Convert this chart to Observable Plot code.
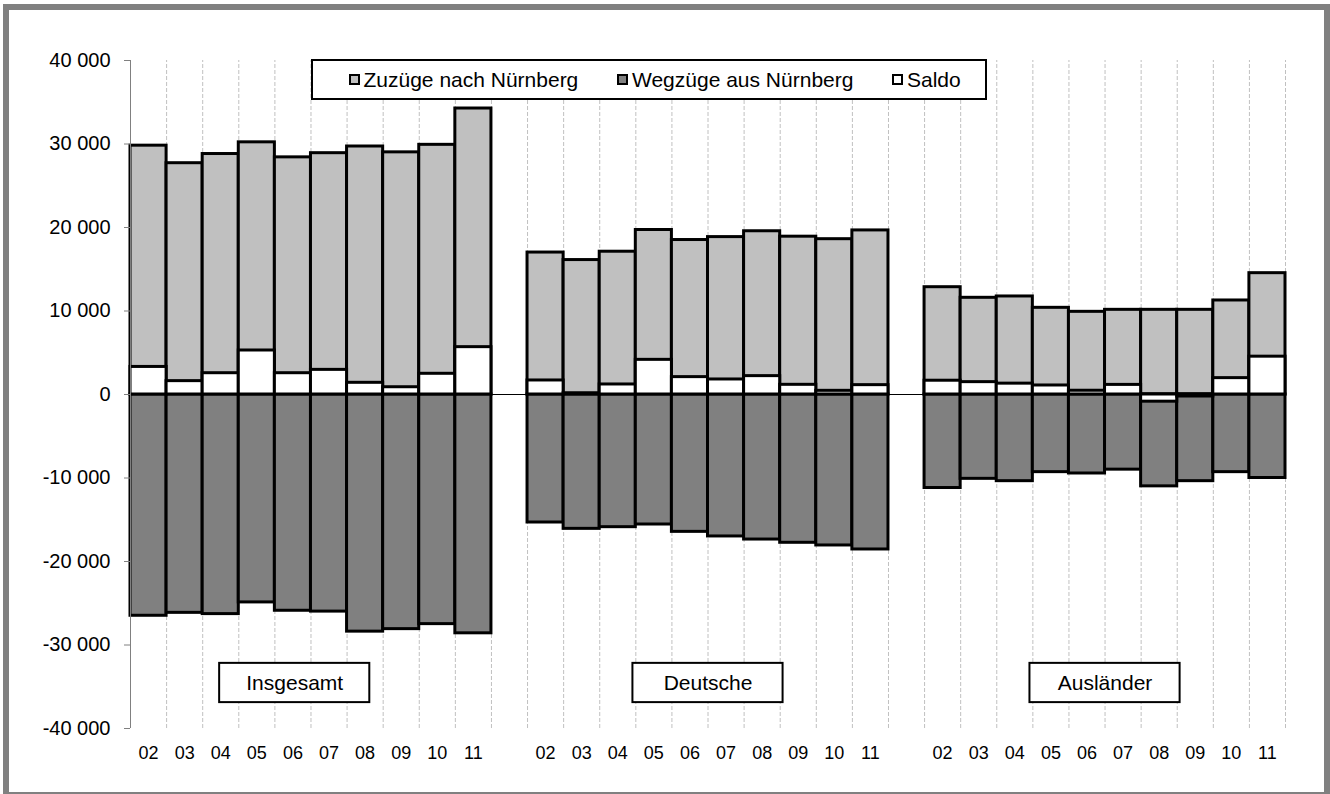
<!DOCTYPE html>
<html><head><meta charset="utf-8">
<script src="https://cdn.jsdelivr.net/npm/d3@7"></script>
<script src="https://cdn.jsdelivr.net/npm/@observablehq/plot@0.6"></script>
<style>
html,body{margin:0;padding:0;width:1330px;height:794px;overflow:hidden;background:#fff;font-family:Arial,"Liberation Sans",sans-serif;}
#chart{position:absolute;left:0;top:0;}
#frame{position:absolute;left:3px;top:4px;width:1327px;height:794px;border:6px solid #808080;box-sizing:border-box;pointer-events:none;}
#legend{position:absolute;left:311px;top:59px;width:676px;height:41px;border:2px solid #000;box-sizing:border-box;background:#fff;}
.item{position:absolute;top:0;height:37px;display:flex;align-items:center;font-size:21px;color:#000;white-space:nowrap;}
.sw{width:7px;height:7px;border:2px solid #000;margin-right:4px;}
</style></head><body>
<div id="chart"></div>
<div id="frame"></div>
<div id="legend"></div>
<script>
const years = ["02","03","04","05","06","07","08","09","10","11"];
const groups = ["Insgesamt","Deutsche","Ausländer"];

const zuzuegeInsgesamt = [29800, 27700, 28800, 30200, 28400, 28900, 29700, 29000, 29900, 34250];
const wegzuegeInsgesamt = [26500, 26150, 26300, 24900, 25900, 26000, 28400, 28100, 27500, 28600];
const saldoInsgesamt = [3300, 1600, 2550, 5270, 2550, 2950, 1400, 870, 2480, 5670];

const zuzuegeDeutsche = [17000, 16100, 17100, 19700, 18500, 18850, 19550, 18900, 18600, 19650];
const wegzuegeDeutsche = [15330, 16090, 15890, 15570, 16450, 17000, 17370, 17760, 18080, 18560];
const saldoDeutsche = [1680, 150, 1200, 4150, 2080, 1800, 2200, 1160, 440, 1120];

const zuzuegeAuslaender = [12850, 11580, 11740, 10380, 9900, 10140, 10140, 10140, 11260, 14530];
const wegzuegeAuslaender = [11200, 10100, 10380, 9300, 9460, 9000, 11000, 10380, 9300, 10000];
const saldoAuslaender = [1650, 1480, 1300, 1080, 450, 1150, -860, -240, 1960, 4530];

const yTicks = [-40000, -30000, -20000, -10000, 0, 10000, 20000, 30000, 40000];
const seriesNames = ["Zuzüge nach Nürnberg", "Wegzüge aus Nürnberg", "Saldo"];
const seriesColors = ["#c0c0c0", "#808080", "#ffffff"];

const zu = [zuzuegeInsgesamt, zuzuegeDeutsche, zuzuegeAuslaender];
const weg = [wegzuegeInsgesamt, wegzuegeDeutsche, wegzuegeAuslaender];
const sal = [saldoInsgesamt, saldoDeutsche, saldoAuslaender];

const perGroup = years.length + 1;
const rows = [];
groups.forEach((g, gi) => years.forEach((yr, i) => rows.push({
  group: g, year: yr, slot: gi * perGroup + i, zu: zu[gi][i], weg: -weg[gi][i], saldo: sal[gi][i]
})));
const nSlots = groups.length * perGroup - 1;
const slotLabel = new Map(rows.map(d => [d.slot + 0.5, d.year]));

const fmt = d3.formatLocale({decimal: ",", thousands: " ", grouping: [3], currency: ["", ""], minus: "-"}).format(",");

// group label boxes (annotation layout)
const boxHalf = 2.08;
const labelRows = groups.map((g, gi) => ({name: g, c: gi * perGroup + years.length / 2 + (gi === 0 ? -0.45 : 0)}));

const barStyle = {stroke: "#000", strokeWidth: 3};
const plot = Plot.plot({
  width: 1330, height: 794,
  marginLeft: 130, marginRight: 45, marginTop: 60, marginBottom: 66,
  style: {fontFamily: "Arial, 'Liberation Sans', sans-serif", background: "transparent", color: "#000"},
  x: {domain: [0, nSlots], label: null},
  y: {domain: [-40000, 40000], label: null},
  marks: [
    Plot.ruleX(d3.range(1, nSlots + 1), {y1: -40000, y2: 40000, stroke: "#c0c0c0", strokeDasharray: "4,2", strokeWidth: 1}),
    Plot.ruleY([0], {stroke: "#000", strokeWidth: 1}),
    Plot.rect(rows, {x1: "slot", x2: d => d.slot + 1, y1: 0, y2: "zu", fill: seriesColors[0], ...barStyle}),
    Plot.rect(rows, {x1: "slot", x2: d => d.slot + 1, y1: 0, y2: "weg", fill: seriesColors[1], ...barStyle}),
    Plot.rect(rows, {x1: "slot", x2: d => d.slot + 1, y1: 0, y2: "saldo", fill: seriesColors[2], ...barStyle}),
    Plot.ruleX([0], {y1: -40000, y2: 40000, stroke: "#808080", strokeWidth: 1}),
    Plot.axisY({ticks: yTicks, tickSize: 6, tickPadding: 14, tickFormat: fmt, stroke: "#808080", fill: "#000", fontSize: 20, label: null}),
    Plot.axisX({ticks: rows.map(d => d.slot + 0.5), tickFormat: v => slotLabel.get(v), tickSize: 0, tickPadding: 18, fontSize: 18, fill: "#000", label: null}),
    Plot.rect(labelRows, {x1: d => d.c - boxHalf, x2: d => d.c + boxHalf, y1: -32200, y2: -36900, fill: "#fff", stroke: "#000", strokeWidth: 2}),
    Plot.text(labelRows, {x: "c", y: -34550, text: "name", fontSize: 21, fill: "#000"})
  ]
});
document.getElementById("chart").appendChild(plot);

const legend = document.getElementById("legend");
const itemLefts = [35.5, 304, 579];
seriesNames.forEach((name, i) => {
  const it = document.createElement("div");
  it.className = "item";
  it.style.left = itemLefts[i] + "px";
  const sw = document.createElement("span");
  sw.className = "sw";
  sw.style.background = seriesColors[i];
  it.appendChild(sw);
  const t = document.createElement("span");
  t.textContent = name;
  it.appendChild(t);
  legend.appendChild(it);
});
</script>
</body></html>
